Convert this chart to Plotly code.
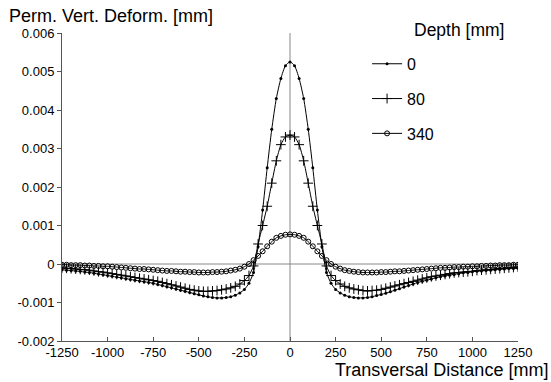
import plotly.graph_objects as go

# Transversal distance [mm]
x_mm = list(range(-1250, 1251, 25))

# Permanent vertical deformation in micrometres (1e-3 mm), x = -1250 ... 1250 step 25
depth0_um = [
    # -1250 .. -1025
    -0.15, -0.16, -0.17, -0.18, -0.19, -0.21, -0.22, -0.24, -0.26, -0.28,
    # -1000 .. -775
    -0.30, -0.32, -0.34, -0.36, -0.38, -0.40, -0.42, -0.44, -0.46, -0.48,
    # -750 .. -525
    -0.50, -0.53, -0.56, -0.59, -0.62, -0.65, -0.68, -0.71, -0.74, -0.77,
    # -500 .. -275
    -0.80, -0.83, -0.85, -0.87, -0.88, -0.88, -0.87, -0.85, -0.81, -0.75,
    # -250 .. -25
    -0.66, -0.50, -0.22, 0.45, 1.40, 2.50, 3.50, 4.30, 4.82, 5.15,
    # 0 .. 225
    5.25, 5.15, 4.82, 4.30, 3.50, 2.50, 1.40, 0.45, -0.22, -0.50,
    # 250 .. 475
    -0.66, -0.75, -0.81, -0.85, -0.87, -0.88, -0.88, -0.87, -0.85, -0.82,
    # 500 .. 725
    -0.79, -0.76, -0.72, -0.68, -0.64, -0.60, -0.56, -0.52, -0.48, -0.45,
    # 750 .. 975
    -0.42, -0.39, -0.36, -0.33, -0.31, -0.29, -0.27, -0.25, -0.23, -0.22,
    # 1000 .. 1225
    -0.20, -0.19, -0.18, -0.17, -0.16, -0.15, -0.14, -0.13, -0.12, -0.12,
    # 1250
    -0.11,
]

depth80_um = [
    -0.10, -0.11, -0.12, -0.13, -0.14, -0.15, -0.16, -0.18, -0.20, -0.21,
    -0.23, -0.25, -0.27, -0.29, -0.31, -0.33, -0.35, -0.37, -0.39, -0.41,
    -0.43, -0.45, -0.48, -0.51, -0.54, -0.57, -0.60, -0.63, -0.66, -0.68,
    -0.70, -0.71, -0.71, -0.70, -0.69, -0.67, -0.65, -0.62, -0.58, -0.52,
    -0.43, -0.30, -0.05, 0.52, 1.00, 1.50, 2.10, 2.68, 3.10, 3.30,
    3.35, 3.30, 3.10, 2.68, 2.10, 1.50, 1.00, 0.52, -0.05, -0.30,
    -0.43, -0.52, -0.58, -0.62, -0.65, -0.67, -0.69, -0.70, -0.69, -0.68,
    -0.66, -0.63, -0.60, -0.57, -0.54, -0.51, -0.48, -0.45, -0.42, -0.39,
    -0.36, -0.33, -0.31, -0.29, -0.27, -0.25, -0.23, -0.22, -0.21, -0.20,
    -0.19, -0.17, -0.16, -0.15, -0.14, -0.13, -0.12, -0.11, -0.10, -0.09,
    -0.08,
]

depth340_um = [
    -0.02, -0.02, -0.03, -0.03, -0.03, -0.04, -0.04, -0.05, -0.05, -0.06,
    -0.06, -0.07, -0.08, -0.09, -0.10, -0.11, -0.12, -0.13, -0.13, -0.14,
    -0.15, -0.16, -0.17, -0.18, -0.18, -0.19, -0.20, -0.20, -0.21, -0.21,
    -0.22, -0.22, -0.22, -0.21, -0.21, -0.20, -0.19, -0.17, -0.15, -0.12,
    -0.07, 0.00, 0.10, 0.21, 0.33, 0.46, 0.58, 0.68, 0.73, 0.76,
    0.77, 0.76, 0.73, 0.68, 0.58, 0.46, 0.33, 0.21, 0.10, 0.00,
    -0.07, -0.12, -0.16, -0.18, -0.20, -0.21, -0.22, -0.22, -0.22, -0.22,
    -0.21, -0.21, -0.20, -0.19, -0.19, -0.18, -0.17, -0.16, -0.15, -0.14,
    -0.13, -0.12, -0.11, -0.10, -0.10, -0.09, -0.08, -0.08, -0.07, -0.07,
    -0.06, -0.06, -0.05, -0.05, -0.04, -0.04, -0.03, -0.03, -0.03, -0.02,
    -0.02,
]

series_names = ["0", "80", "340"]
y_ticks = [-0.002, -0.001, 0, 0.001, 0.002, 0.003, 0.004, 0.005, 0.006]
y_tick_text = ["-0.002", "-0.001", "0", "0.001", "0.002", "0.003", "0.004", "0.005", "0.006"]
x_ticks = [-1250, -1000, -750, -500, -250, 0, 250, 500, 750, 1000, 1250]
x_tick_text = ["-1250", "-1000", "-750", "-500", "-250", "0", "250", "500", "750", "1000", "1250"]

FONT = "Liberation Sans, Arial, sans-serif"

fig = go.Figure()

# reference lines at x=0 and y=0
fig.add_trace(go.Scatter(x=[-1250, 1250], y=[0, 0], mode="lines",
                         line=dict(color="#888888", width=1), showlegend=False, hoverinfo="skip"))
fig.add_trace(go.Scatter(x=[0, 0], y=[-0.002, 0.006], mode="lines",
                         line=dict(color="#888888", width=1), showlegend=False, hoverinfo="skip"))

styles = [
    dict(symbol="circle", size=3, color="black"),
    dict(symbol="cross-thin", size=7, color="black", line=dict(width=1, color="black")),
    dict(symbol="circle-open", size=5, color="black", line=dict(width=1, color="black")),
]
for name, ys, mk in zip(series_names, [depth0_um, depth80_um, depth340_um], styles):
    fig.add_trace(go.Scatter(
        x=x_mm, y=[v / 1000 for v in ys], mode="lines+markers", name=name, legendgroup=name,
        line=dict(color="black", width=1, shape="spline", smoothing=0.6),
        marker=mk,
    ))

fig.update_layout(
    width=551, height=382,
    margin=dict(l=62, r=33, t=33, b=41),
    paper_bgcolor="white", plot_bgcolor="white",
    font=dict(family=FONT, size=13, color="black"),
    legend=dict(x=0.669, y=0.955, xanchor="left", yanchor="top",
                bgcolor="rgba(0,0,0,0)", tracegroupgap=11,
                font=dict(family=FONT, size=16, color="black")),
    annotations=[
        dict(text="Perm. Vert. Deform. [mm]", xref="paper", yref="paper",
             x=-0.12, y=1.0, xanchor="left", yanchor="middle", yshift=17,
             showarrow=False, font=dict(family=FONT, size=18, color="black")),
        dict(text="Depth [mm]", xref="paper", yref="paper",
             x=0.768, y=1.0, xanchor="left", yanchor="middle", yshift=3,
             showarrow=False, font=dict(family=FONT, size=17.5, color="black")),
        dict(text="Transversal Distance [mm]", xref="paper", yref="paper",
             x=1.0, y=0.0, xanchor="right", yanchor="middle", xshift=32, yshift=-29,
             showarrow=False, font=dict(family=FONT, size=18, color="black")),
    ],
)
fig.update_xaxes(range=[-1250, 1250], tickvals=x_ticks, ticktext=x_tick_text,
                 showgrid=False, zeroline=False,
                 showline=True, linecolor="#555555", linewidth=1,
                 ticks="inside", ticklen=4, tickcolor="#555555",
                 ticklabelstandoff=-1,
                 tickfont=dict(family=FONT, size=13, color="black"))
fig.update_yaxes(range=[-0.002, 0.006], tickvals=y_ticks, ticktext=y_tick_text,
                 showgrid=False, zeroline=False,
                 showline=True, linecolor="#555555", linewidth=1,
                 ticks="outside", ticklen=4, tickcolor="#555555",
                 tickfont=dict(family=FONT, size=13, color="black"))

fig.write_html("out.html")
